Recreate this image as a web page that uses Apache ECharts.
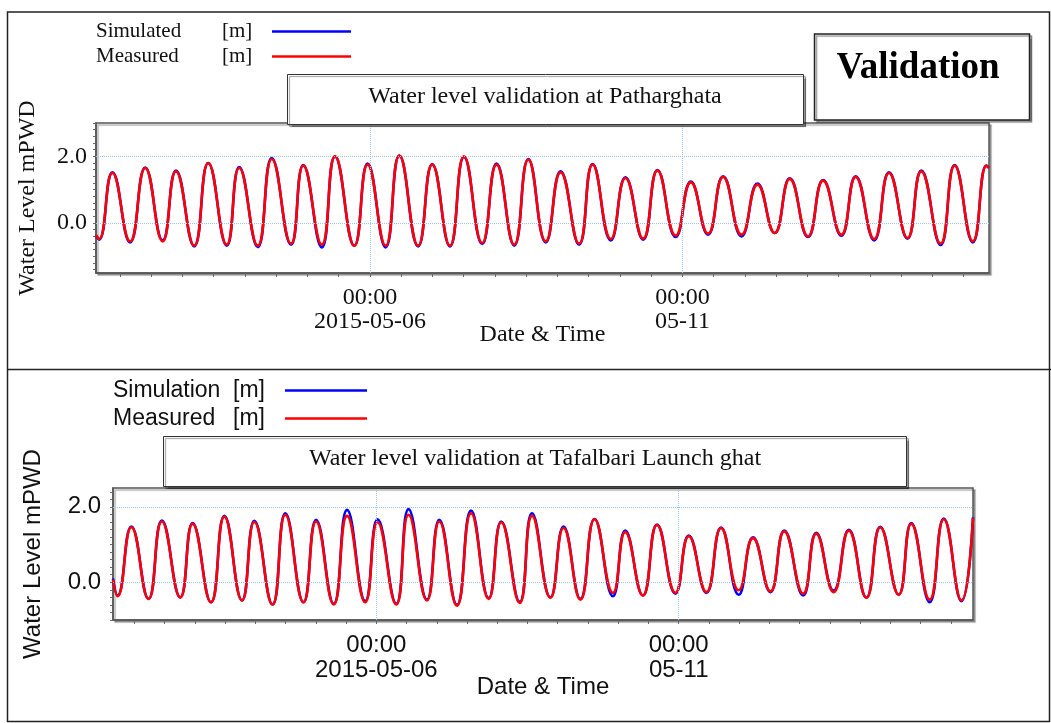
<!DOCTYPE html>
<html>
<head>
<meta charset="utf-8">
<script src="https://cdn.jsdelivr.net/npm/echarts@6/dist/echarts.min.js"></script>
<style>
  html, body { margin: 0; padding: 0; background: #fff; }
  #chart { width: 1051px; height: 723px; }
</style>
</head>
<body>
<div id="chart"></div>
<script>
// ---- Patharghata: high / low water times and levels (m PWD) ----
const pathTimes = [
  '05-01 14:48', '05-01 16:00', '05-01 21:06', '05-02 03:54', '05-02 09:42', '05-02 16:24',
  '05-02 21:30', '05-03 04:30', '05-03 09:54', '05-03 17:00', '05-03 21:48', '05-04 04:54',
  '05-04 10:18', '05-04 17:42', '05-04 22:24', '05-05 05:30', '05-05 10:36', '05-05 18:00',
  '05-05 23:06', '05-06 06:00', '05-06 11:18', '05-06 18:30', '05-06 23:54', '05-07 06:42',
  '05-07 12:06', '05-07 19:06', '05-08 00:36', '05-08 07:24', '05-08 12:48', '05-08 19:30',
  '05-09 01:12', '05-09 08:18', '05-09 13:30', '05-09 20:30', '05-10 02:06', '05-10 08:54',
  '05-10 14:24', '05-10 21:24', '05-11 03:12', '05-11 09:48', '05-11 15:36', '05-11 22:42',
  '05-12 04:48', '05-12 11:24', '05-12 17:12', '05-13 00:12', '05-13 06:00', '05-13 13:00',
  '05-13 18:30', '05-14 01:36', '05-14 07:18', '05-14 14:24', '05-14 19:42', '05-15 03:06',
  '05-15 08:30', '05-15 15:30', '05-15 20:42', '05-15 21:42'
];
const pathSimulated = [
  -0.38, -0.50, 1.52, -0.58, 1.66, -0.52, 1.57, -0.70, 1.80, -0.68, 1.68, -0.72,
  1.95, -0.65, 1.74, -0.73, 2.00, -0.68, 1.78, -0.73, 2.02, -0.70, 1.77, -0.70,
  1.98, -0.63, 1.78, -0.68, 1.92, -0.58, 1.55, -0.65, 1.77, -0.52, 1.37, -0.50,
  1.59, -0.42, 1.24, -0.35, 1.40, -0.40, 1.18, -0.30, 1.34, -0.42, 1.29, -0.38,
  1.40, -0.52, 1.52, -0.47, 1.57, -0.66, 1.74, -0.58, 1.72, 1.66
];
const pathMeasured = [
  -0.36, -0.48, 1.50, -0.55, 1.65, -0.55, 1.55, -0.68, 1.80, -0.65, 1.65, -0.68,
  1.92, -0.62, 1.72, -0.65, 2.00, -0.68, 1.75, -0.68, 2.02, -0.68, 1.75, -0.68,
  2.00, -0.60, 1.75, -0.65, 1.90, -0.55, 1.52, -0.62, 1.75, -0.48, 1.35, -0.47,
  1.57, -0.38, 1.22, -0.32, 1.38, -0.35, 1.15, -0.30, 1.32, -0.40, 1.27, -0.35,
  1.38, -0.48, 1.50, -0.45, 1.55, -0.62, 1.72, -0.55, 1.72, 1.65
];

// ---- Tafalbari Launch ghat: high / low water times and levels (m PWD) ----
const tafTimes = [
  '05-01 15:30', '05-01 17:18', '05-01 22:48', '05-02 05:36', '05-02 10:54', '05-02 18:12',
  '05-02 23:06', '05-03 06:24', '05-03 11:42', '05-03 18:42', '05-03 23:36', '05-04 06:48',
  '05-04 11:54', '05-04 19:06', '05-05 00:06', '05-05 07:06', '05-05 12:24', '05-05 19:36',
  '05-06 00:30', '05-06 07:54', '05-06 12:48', '05-06 20:06', '05-07 01:00', '05-07 08:00',
  '05-07 13:36', '05-07 20:36', '05-08 01:36', '05-08 08:54', '05-08 13:48', '05-08 21:06',
  '05-09 02:18', '05-09 09:00', '05-09 14:36', '05-09 21:54', '05-10 02:48', '05-10 09:48',
  '05-10 15:24', '05-10 22:42', '05-11 04:00', '05-11 11:00', '05-11 16:48', '05-11 23:48',
  '05-12 05:30', '05-12 12:24', '05-12 17:54', '05-13 01:24', '05-13 06:36', '05-13 13:30',
  '05-13 19:30', '05-14 02:30', '05-14 08:00', '05-14 15:18', '05-14 20:18', '05-15 03:36',
  '05-15 09:12', '05-15 16:12', '05-15 20:48'
];
const tafSimulation = [
  0.10, -0.35, 1.48, -0.44, 1.64, -0.40, 1.57, -0.53, 1.76, -0.48, 1.63, -0.59,
  1.83, -0.53, 1.66, -0.57, 1.92, -0.50, 1.67, -0.57, 1.94, -0.46, 1.66, -0.60,
  1.90, -0.42, 1.61, -0.52, 1.83, -0.40, 1.48, -0.44, 1.68, -0.37, 1.37, -0.35,
  1.53, -0.30, 1.24, -0.28, 1.45, -0.33, 1.19, -0.26, 1.37, -0.35, 1.31, -0.22,
  1.39, -0.41, 1.47, -0.33, 1.57, -0.53, 1.69, -0.50, 1.72
];
const tafMeasured = [
  0.07, -0.37, 1.46, -0.44, 1.61, -0.40, 1.55, -0.53, 1.74, -0.48, 1.60, -0.59,
  1.79, -0.53, 1.61, -0.59, 1.76, -0.53, 1.59, -0.59, 1.79, -0.48, 1.61, -0.62,
  1.83, -0.44, 1.59, -0.55, 1.76, -0.41, 1.44, -0.46, 1.67, -0.28, 1.33, -0.35,
  1.52, -0.28, 1.22, -0.26, 1.44, -0.21, 1.17, -0.24, 1.35, -0.30, 1.29, -0.26,
  1.37, -0.41, 1.46, -0.33, 1.55, -0.46, 1.67, -0.48, 1.70
];

// ---- axis labels ----
const xLabelDates = ['05-06 00:00', '05-11 00:00'];
const xLabelTexts = ['00:00\n2015-05-06', '00:00\n05-11'];
const yLabelValues = [0, 2];

const SERIF = "'Liberation Serif', 'Times New Roman', serif";
const SANS = "'Liberation Sans', Arial, sans-serif";
// time is measured in hours from 2015-05-01 00:00
const toHours = s => {
  const [md, hm] = s.split(' ');
  const day = +md.split('-')[1];
  const [h, m] = hm.split(':').map(Number);
  return (day - 1) * 24 + h + m / 60;
};
const zip = (times, vals) => times.map((t, i) => [toHours(t), vals[i]]);

// tick marks every 12 h on the time axis, every 0.2 m on the level axis
const xTicks = [];
for (let t = toHours('05-02 00:00'); t <= toHours('05-15 12:00'); t += 12) xTicks.push(t);
const yTicks = (lo, hi) => {
  const out = [];
  for (let k = Math.ceil(lo * 5 - 1e-9); k <= Math.floor(hi * 5 + 1e-9); k++) out.push(k / 5);
  return out;
};
const xLabelHours = xLabelDates.map(toHours);

function xAxisFor(gridIndex, font, min, max, nameGap, lineHeight, margin) {
  return {
    type: 'value', gridIndex, min: toHours(min), max: toHours(max),
    axisLine: { show: true, onZero: false, lineStyle: { color: '#555', width: 1.5 } },
    axisTick: { show: true, customValues: xTicks, length: 4, lineStyle: { color: '#666' } },
    axisLabel: {
      customValues: xLabelHours,
      formatter: v => xLabelTexts[xLabelHours.indexOf(v)] || '',
      fontFamily: font, fontSize: 24, color: '#111', lineHeight, margin
    },
    splitLine: { show: false },
    name: 'Date & Time', nameLocation: 'middle', nameGap, nameMoveOverlap: false,
    nameTextStyle: { fontFamily: font, fontSize: 24, color: '#111' }
  };
}
function yAxisFor(gridIndex, font, min, max, nameGap, margin) {
  return {
    type: 'value', gridIndex, min, max,
    axisLine: { show: true, onZero: false, lineStyle: { color: '#555', width: 1.5 } },
    axisTick: { show: true, customValues: yTicks(min, max), length: 3, lineStyle: { color: '#666' } },
    axisLabel: {
      customValues: yLabelValues, formatter: v => v.toFixed(1),
      fontFamily: font, fontSize: 24, color: '#111', margin
    },
    splitLine: { show: false },
    name: 'Water Level mPWD', nameLocation: 'middle', nameGap, nameRotate: 90, nameMoveOverlap: false,
    nameTextStyle: { fontFamily: font, fontSize: 24, color: '#111' }
  };
}
function gridLines(idx) {
  return {
    type: 'line', xAxisIndex: idx, yAxisIndex: idx, data: [], z: 1, silent: true,
    markLine: {
      silent: true, symbol: 'none', label: { show: false }, animation: false,
      lineStyle: { type: 'dotted', color: '#9cc6ee', width: 1 },
      data: [{ yAxis: 0 }, { yAxis: 2 }, { xAxis: xLabelHours[0] }, { xAxis: xLabelHours[1] }]
    }
  };
}
function curve(name, idx, data, color, z) {
  return {
    name, type: 'line', xAxisIndex: idx, yAxisIndex: idx, data, z,
    smooth: 0.5, showSymbol: false, symbol: 'none',
    lineStyle: { color, width: 2.6 }, itemStyle: { color }
  };
}
const gridStyle = {
  show: true, backgroundColor: '#fff', borderColor: '#555', borderWidth: 1.5,
  shadowColor: 'rgba(0,0,0,0.3)', shadowOffsetX: 2, shadowOffsetY: 2, shadowBlur: 1
};
function legendFor(names, left, top, font, size, lineH, nameW, unitW, iconW, gap) {
  const tok = w => ({ width: w, align: 'left', fontFamily: font, fontSize: size, lineHeight: lineH, color: '#111' });
  return {
    data: names, orient: 'vertical', left, top, align: 'right', padding: 0,
    icon: 'rect', itemWidth: iconW, itemHeight: 2.5, itemGap: gap,
    selectedMode: false,
    formatter: n => '{n|' + n + '}{u|[m]}',
    textStyle: {
      color: '#111', fontFamily: font, fontSize: size,
      rich: { n: tok(nameW), u: tok(unitW) }
    }
  };
}

const chart = echarts.init(document.getElementById('chart'), null, { renderer: 'canvas' });
chart.setOption({
  animation: false,
  backgroundColor: '#fff',
  grid: [
    Object.assign({ left: 96, top: 123, width: 893, height: 150 }, gridStyle),
    Object.assign({ left: 113, top: 488, width: 860, height: 132 }, gridStyle)
  ],
  xAxis: [
    xAxisFor(0, SERIF, '05-01 14:48', '05-15 21:42', 50, 24, 13),
    xAxisFor(1, SANS, '05-01 15:30', '05-15 20:48', 55, 25, 13)
  ],
  yAxis: [
    yAxisFor(0, SERIF, -1.5, 3.0, 56, 9),
    yAxisFor(1, SANS, -1.0, 2.5, 68, 12)
  ],
  legend: [
    legendFor(['Simulated', 'Measured'], 96, 21, SERIF, 21, 22, 126, 45, 79, 4),
    legendFor(['Simulation', 'Measured'], 113, 379, SANS, 23, 23, 120, 47, 82, 5)
  ],
  series: [
    gridLines(0),
    curve('Simulated', 0, zip(pathTimes, pathSimulated), '#0000ff', 3),
    curve('Measured', 0, zip(pathTimes, pathMeasured), '#ff0000', 4),
    gridLines(1),
    curve('Simulation', 1, zip(tafTimes, tafSimulation), '#0000ff', 3),
    curve('Measured', 1, zip(tafTimes, tafMeasured), '#ff0000', 4)
  ],
  graphic: [
    // outer frame and panel divider
    { type: 'rect', shape: { x: 7.5, y: 12, width: 1042, height: 709.5 },
      style: { fill: 'none', stroke: '#222', lineWidth: 1.5 }, z: 10 },
    { type: 'line', shape: { x1: 7.5, y1: 369.5, x2: 1051, y2: 369.5 },
      style: { stroke: '#222', lineWidth: 1.5 }, z: 10 },
    // "Validation" box
    { type: 'rect', shape: { x: 814.5, y: 34, width: 215, height: 86 },
      style: { fill: '#fff', stroke: '#222', lineWidth: 1.5,
               shadowColor: 'rgba(0,0,0,0.4)', shadowOffsetX: 2, shadowOffsetY: 2, shadowBlur: 1 }, z: 10 },
    { type: 'text', x: 918, y: 68, z: 11,
      style: { text: 'Validation', fontFamily: SERIF, fontSize: 37, fontWeight: 'bold',
               fill: '#000', align: 'center', verticalAlign: 'middle' } },
    // panel titles
    { type: 'rect', shape: { x: 287.5, y: 74.5, width: 516, height: 50 },
      style: { fill: '#fff', stroke: '#333', lineWidth: 1,
               shadowColor: 'rgba(0,0,0,0.4)', shadowOffsetX: 2, shadowOffsetY: 2, shadowBlur: 1 }, z: 10 },
    { type: 'text', x: 545, y: 97, z: 11,
      style: { text: 'Water level validation at Patharghata', fontFamily: SERIF, fontSize: 24,
               fill: '#111', align: 'center', verticalAlign: 'middle' } },
    { type: 'rect', shape: { x: 163.5, y: 436.5, width: 743, height: 50 },
      style: { fill: '#fff', stroke: '#333', lineWidth: 1,
               shadowColor: 'rgba(0,0,0,0.4)', shadowOffsetX: 2, shadowOffsetY: 2, shadowBlur: 1 }, z: 10 },
    { type: 'text', x: 535, y: 459, z: 11,
      style: { text: 'Water level validation at Tafalbari Launch ghat', fontFamily: SERIF, fontSize: 24,
               fill: '#111', align: 'center', verticalAlign: 'middle' } }
  ]
});
</script>
</body>
</html>
